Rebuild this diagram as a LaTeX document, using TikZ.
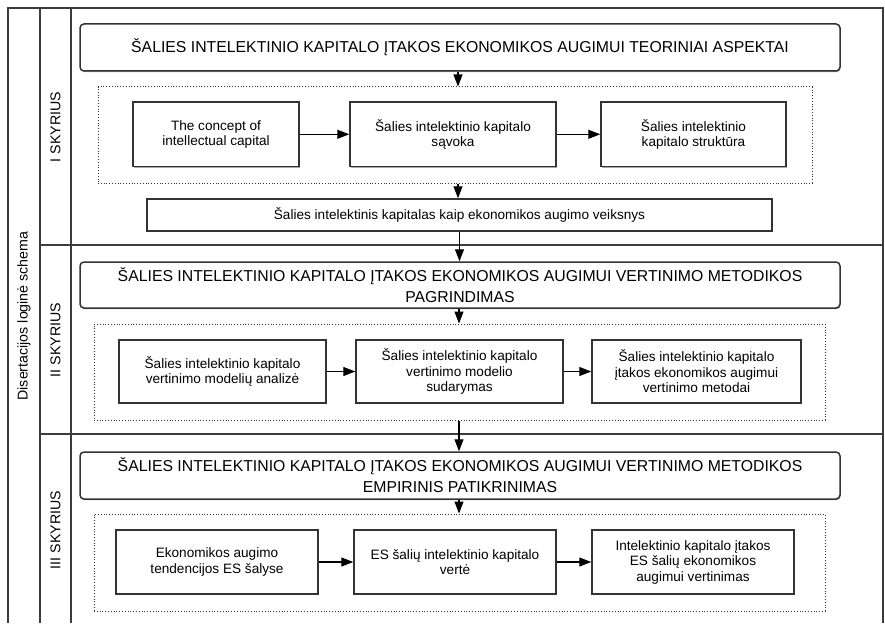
\documentclass[tikz,border=0pt]{standalone}
\usepackage{fontspec}
\setmainfont{Liberation Sans}
\usetikzlibrary{arrows.meta,shadows}
\definecolor{linec}{HTML}{333333}
\definecolor{framec}{HTML}{3C3C3C}
\begin{document}
\begin{tikzpicture}[x=1pt,y=-1pt,
  frameline/.style={draw=framec,line width=1.1pt},
  titlebox/.style={draw=linec,line width=1.5pt,rounded corners=4pt,fill=white,
    align=center,inner sep=0pt,font=\fontsize{15.8}{21}\selectfont,
    drop shadow={shadow xshift=0.6pt,shadow yshift=-1.2pt,fill=black,opacity=0.35}},
  stepbox/.style={draw=linec,line width=1.5pt,fill=white,align=center,inner sep=0pt,
    font=\fontsize{13.6}{15.5}\selectfont,
    drop shadow={shadow xshift=0.6pt,shadow yshift=-1.2pt,fill=black,opacity=0.35}},
  dotbox/.style={draw=linec,line width=1pt,dash pattern=on 1pt off 1.8pt,inner sep=0pt},
  sidelbl/.style={rotate=90,font=\fontsize{14.2}{16}\selectfont,inner sep=0pt},
  arr/.style={draw=black,line width=1.1pt,-{Triangle[length=12pt,width=9pt]}}]
\useasboundingbox (0,0) rectangle (885,623);
\fill[white] (0,0) rectangle (885,623);

% frame and section grid
\draw[frameline] (8,623) -- (8,8) -- (883,8) -- (883,623);
\draw[frameline] (40,8) -- (40,623);
\draw[frameline] (71,8) -- (71,623);
\draw[frameline] (40,245) -- (883,245);
\draw[frameline] (40,434) -- (883,434);

% side labels
\node[sidelbl] (side) at (24,316) {Disertacijos loginė schema};
\node[sidelbl] (s1) at (55.5,127) {I SKYRIUS};
\node[sidelbl] (s2) at (55.5,340) {II SKYRIUS};
\node[sidelbl] (s3) at (55.5,530) {III SKYRIUS};

% chapter I
\node[titlebox,minimum width=760,minimum height=47] (t1) at (460,47.5)
  {ŠALIES INTELEKTINIO KAPITALO ĮTAKOS EKONOMIKOS AUGIMUI TEORINIAI ASPEKTAI};
\node[dotbox,minimum width=714,minimum height=96] (d1) at (455,135) {};
\node[stepbox,minimum width=166,minimum height=64.5] (a1) at (216,134.3)
  {The concept of\\intellectual capital};
\node[stepbox,minimum width=206,minimum height=64.5] (b1) at (453,134.3)
  {Šalies intelektinio kapitalo\\sąvoka};
\node[stepbox,minimum width=185,minimum height=64.5] (c1) at (693.5,134.3)
  {Šalies intelektinio\\kapitalo struktūra};
\node[stepbox,minimum width=625,minimum height=32] (w1) at (459.5,215)
  {Šalies intelektinis kapitalas kaip ekonomikos augimo veiksnys};

% chapter II
\node[titlebox,minimum width=760,minimum height=46] (t2) at (460,285)
  {ŠALIES INTELEKTINIO KAPITALO ĮTAKOS EKONOMIKOS AUGIMUI VERTINIMO METODIKOS\\PAGRINDIMAS};
\node[dotbox,minimum width=731,minimum height=96] (d2) at (459.5,372) {};
\node[stepbox,minimum width=207,minimum height=63] (a2) at (222.5,371.5)
  {Šalies intelektinio kapitalo\\vertinimo modelių analizė};
\node[stepbox,minimum width=207,minimum height=63] (b2) at (459.5,371.5)
  {Šalies intelektinio kapitalo\\vertinimo modelio\\sudarymas};
\node[stepbox,minimum width=209,minimum height=63] (c2) at (696.5,371.5)
  {Šalies intelektinio kapitalo\\įtakos ekonomikos augimui\\vertinimo metodai};

% chapter III
\node[titlebox,minimum width=760,minimum height=47] (t3) at (460,475.5)
  {ŠALIES INTELEKTINIO KAPITALO ĮTAKOS EKONOMIKOS AUGIMUI VERTINIMO METODIKOS\\EMPIRINIS PATIKRINIMAS};
\node[dotbox,minimum width=731,minimum height=97] (d3) at (459.5,562.5) {};
\node[stepbox,minimum width=202,minimum height=64] (a3) at (217,562)
  {Ekonomikos augimo\\tendencijos ES šalyse};
\node[stepbox,minimum width=202,minimum height=64] (b3) at (455,562)
  {ES šalių intelektinio kapitalo\\vertė};
\node[stepbox,minimum width=202,minimum height=64] (c3) at (693,562)
  {Intelektinio kapitalo įtakos\\ES šalių ekonomikos\\augimui vertinimas};

% connectors
\draw[arr] ([xshift=-2pt]t1.south) -- ([xshift=-2pt]t1.south |- d1.north);
\draw[arr] (a1) -- (b1);
\draw[arr] (b1) -- (c1);
\draw[arr] ([xshift=-1.5pt]w1.north |- d1.south) -- ([xshift=-1.5pt]w1.north);
\draw[arr] (w1.south) -- (w1.south |- t2.north);
\draw[arr] ([xshift=-1pt]t2.south) -- ([xshift=-1pt]t2.south |- d2.north);
\draw[arr] (a2) -- (b2);
\draw[arr] (b2) -- (c2);
\draw[arr] ([xshift=-1pt]t3.north |- d2.south) -- ([xshift=-1pt]t3.north);
\draw[arr] ([xshift=-1pt]t3.south) -- ([xshift=-1pt]t3.south |- d3.north);
\draw[arr] (a3) -- (b3);
\draw[arr] (b3) -- (c3);
\end{tikzpicture}
\end{document}
